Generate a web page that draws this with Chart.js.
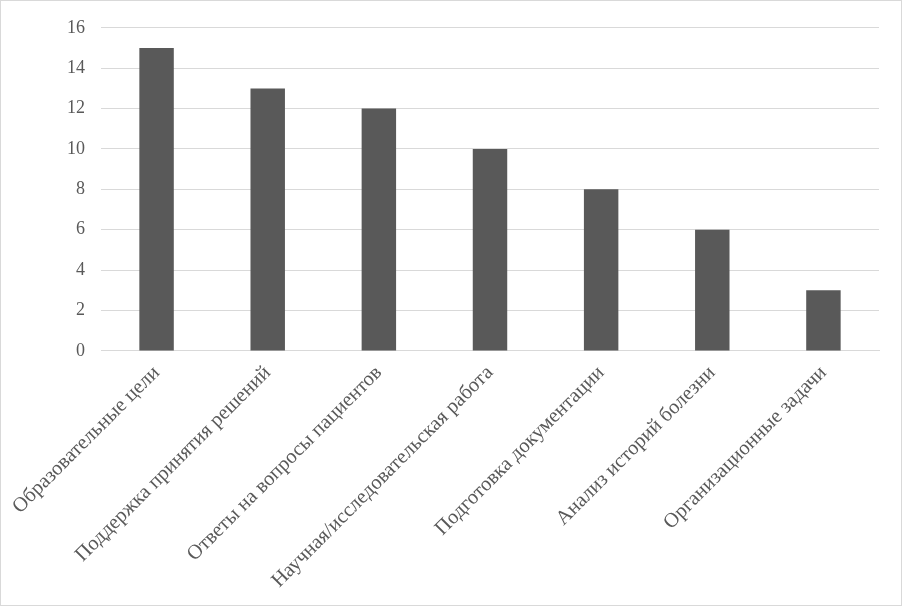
<!DOCTYPE html>
<html>
<head>
<meta charset="utf-8">
<script src="https://cdn.jsdelivr.net/npm/chart.js@4/dist/chart.umd.min.js"></script>
<style>
  html, body { margin: 0; padding: 0; background: #fff; }
  #wrap { width: 900px; height: 604px; border: 1px solid #d9d9d9; }
</style>
</head>
<body>
<div id="wrap"><canvas id="chart" width="900" height="604"></canvas></div>
<script>
const categories = [
  'Образовательные цели',
  'Поддержка принятия решений',
  'Ответы на вопросы пациентов',
  'Научная/исследовательская работа',
  'Подготовка документации',
  'Анализ историй болезни',
  'Организационные задачи'
];
const values = [15, 13, 12, 10, 8, 6, 3];

new Chart(document.getElementById('chart'), {
  type: 'bar',
  data: {
    labels: categories,
    datasets: [{
      data: values,
      backgroundColor: '#595959',
      barPercentage: 0.31,
      categoryPercentage: 1
    }]
  },
  options: {
    responsive: false,
    animation: false,
    layout: { padding: { top: 11, right: 22, left: 50, bottom: 10 } },
    plugins: { legend: { display: false }, tooltip: { enabled: false } },
    scales: {
      x: {
        grid: { display: false },
        border: { color: '#d9d9d9' },
        ticks: {
          color: '#595959',
          font: { family: 'Liberation Serif', size: 20.5 },
          minRotation: 45, maxRotation: 45, padding: 2
        }
      },
      y: {
        min: 0, max: 16,
        grid: { color: '#d9d9d9', drawTicks: false },
        border: { display: false },
        ticks: {
          stepSize: 2, color: '#595959', padding: 16,
          font: { family: 'Liberation Serif', size: 18 }
        }
      }
    }
  }
});
</script>
</body>
</html>
